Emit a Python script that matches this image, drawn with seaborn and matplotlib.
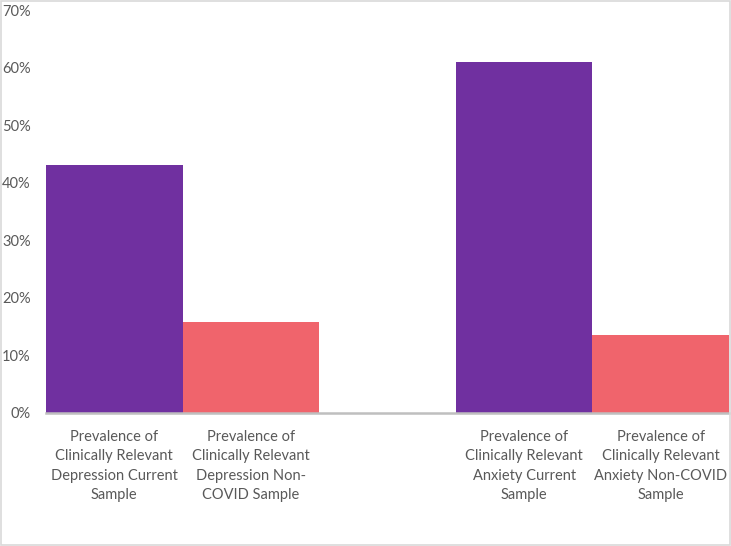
import matplotlib
matplotlib.use("Agg")
import matplotlib.pyplot as plt
import seaborn as sns
from matplotlib.patches import Rectangle

# categories and values (percent)
labels = [
    "Prevalence of\nClinically Relevant\nDepression Current\nSample",
    "Prevalence of\nClinically Relevant\nDepression Non-\nCOVID Sample",
    "Prevalence of\nClinically Relevant\nAnxiety Current\nSample",
    "Prevalence of\nClinically Relevant\nAnxiety Non-COVID\nSample",
]
values = [43.0, 15.8, 61.0, 13.6]
colors = ["#7030A0", "#F0646C", "#7030A0", "#F0646C"]
y_ticks = [0, 10, 20, 30, 40, 50, 60, 70]
y_tick_labels = ["0%", "10%", "20%", "30%", "40%", "50%", "60%", "70%"]

sns.set_theme(style="white")
plt.rcParams["font.family"] = ["Lato", "DejaVu Sans"]

fig = plt.figure(figsize=(7.31, 5.46), dpi=100)
ax = fig.add_axes([46 / 731, 133 / 546, 683 / 731, 403 / 546])

# empty slot between the two groups
order = [labels[0], labels[1], " ", labels[2], labels[3]]
sns.barplot(
    x=labels, y=values, hue=labels,
    palette=dict(zip(labels, colors)),
    order=order, width=1.0, linewidth=0, saturation=1,
    legend=False, ax=ax,
)

ax.set_xlim(-0.5, 4.5)
ax.set_ylim(0, 70)
ax.set_yticks(y_ticks)
ax.set_yticklabels(y_tick_labels)
ax.set_xlabel("")
ax.set_ylabel("")

for s in ["top", "right", "left"]:
    ax.spines[s].set_visible(False)
ax.spines["bottom"].set_color("#BFBFBF")
ax.spines["bottom"].set_linewidth(1.8)

ax.tick_params(axis="both", length=0, colors="#595959", labelsize=10.5)
ax.tick_params(axis="y", pad=11)
ax.tick_params(axis="x", pad=12)
for t in ax.get_xticklabels():
    t.set_linespacing(1.5)
    t.set_verticalalignment("top")

# light border round the whole figure
fig.patches.append(Rectangle((0.001, 0.001), 0.998, 0.997, transform=fig.transFigure,
                             fill=False, edgecolor="#D9D9D9", linewidth=1.2))

fig.savefig("out.png", dpi=100)
